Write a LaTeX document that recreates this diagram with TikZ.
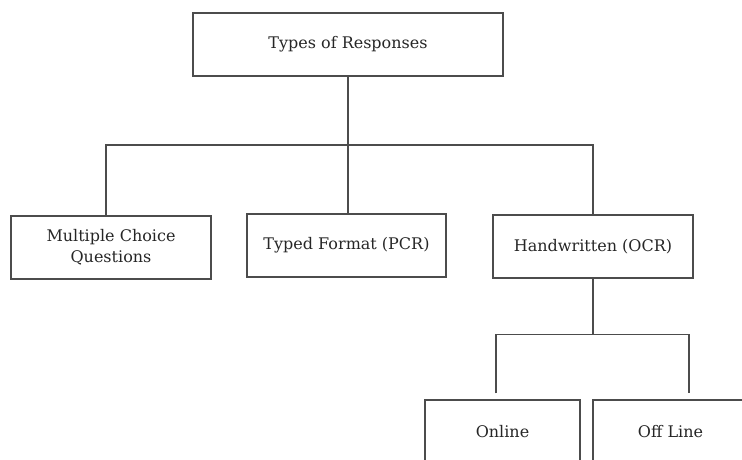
\documentclass[tikz,border=0pt]{standalone}
\usepackage{fontspec}
\setmainfont{DejaVu Serif}
\usetikzlibrary{positioning, calc}
\tikzset{
  typebox/.style={
    rectangle, draw=gray!60!black, line width=1.2pt,
    minimum width=#1, minimum height=63pt,
    align=center, font=\fontsize{16}{21}\selectfont, text=black!85
  },
  typebox/.default=200pt,
  treeline/.style={draw=gray!60!black, line width=1.2pt},
}
\begin{document}
\begin{tikzpicture}[x=1pt, y=-1pt]
    \useasboundingbox (0,0) rectangle (742,459);
    \clip (0,0) rectangle (742,459);
    \node[typebox=310pt] (root)    at (348,44.5)  {Types of Responses};
    \node[typebox]       (mcq)     at (111,247.5) {Multiple Choice\\Questions};
    \node[typebox=199pt] (typed)   at (346.5,245.5) {Typed Format (PCR)};
    \node[typebox]       (hw)      at (593,246.5) {Handwritten (OCR)};
    \node[typebox=155pt] (online)  at (502.5,431.5) {Online};
    \node[typebox=155pt] (offline) at (670.5,431.5) {Off Line};
    % first level
    \coordinate (bus) at (348,145);
    \draw[treeline] (root.south) -- (bus |- typed.north);
    \draw[treeline] ([xshift=-5pt]mcq.north) |- (bus) -| (hw.north);
    % second level
    \coordinate (subbus) at ($(hw.south)+(0,56)$);
    \draw[treeline] (hw.south) -- (subbus);
    \draw[treeline] ([xshift=-6.5pt,yshift=6pt]online.north) |- (subbus)
                    -| ([xshift=18.5pt,yshift=6pt]offline.north);
\end{tikzpicture}
\end{document}
